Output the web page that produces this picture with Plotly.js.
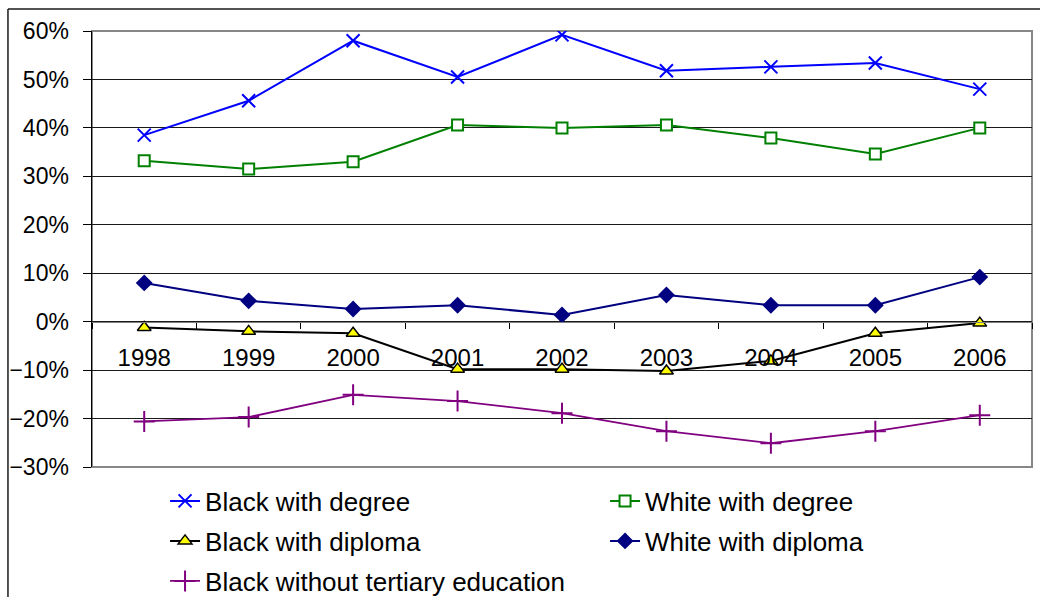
<!DOCTYPE html>
<html>
<head>
<meta charset="utf-8">
<script src="https://cdn.plot.ly/plotly-3.0.1.min.js"></script>
<style>html,body{margin:0;padding:0;background:#fff;}#chart{width:1040px;height:597px;}</style>
</head>
<body>
<div id="chart"></div>
<script>
var years = ['1998','1999','2000','2001','2002','2003','2004','2005','2006'];
var blackDegree   = [38.5, 45.6, 58.0, 50.5, 59.2, 51.8, 52.6, 53.4, 48.0];
var whiteDegree   = [33.2, 31.5, 33.0, 40.6, 40.0, 40.6, 37.9, 34.6, 40.0];
var blackDiploma  = [-1.2, -2.0, -2.4, -9.8, -9.8, -10.2, -8.1, -2.4, -0.3];
var whiteDiploma  = [8.0, 4.3, 2.6, 3.4, 1.4, 5.5, 3.4, 3.4, 9.2];
var blackNoTert   = [-20.6, -19.7, -15.1, -16.4, -18.9, -22.6, -25.1, -22.6, -19.3];
var seriesNames = ['Black with degree','White with degree','Black with diploma','White with diploma','Black without tertiary education'];
var yRange = [-30, 60];

var FONT = 'Liberation Sans, Arial, sans-serif';

var traces = [
  {x: years, y: blackDegree, name: seriesNames[0], type: 'scatter', mode: 'lines+markers', legend: 'legend',
   line: {color: '#0000FF', width: 2},
   marker: {symbol: 'x-thin-open', size: 13, color: '#0000FF', line: {color: '#0000FF', width: 2}}},
  {x: years, y: whiteDegree, name: seriesNames[1], type: 'scatter', mode: 'lines+markers', legend: 'legend',
   line: {color: '#008000', width: 2},
   marker: {symbol: 'square', size: 11, color: '#FFFFFF', line: {color: '#008000', width: 2}}},
  {x: years, y: blackDiploma, name: seriesNames[2], type: 'scatter', mode: 'lines+markers', legend: 'legend2',
   line: {color: '#000000', width: 2},
   marker: {symbol: 'triangle-up', size: 12, color: '#FFFF00', line: {color: '#000000', width: 1.5}}},
  {x: years, y: whiteDiploma, name: seriesNames[3], type: 'scatter', mode: 'lines+markers', legend: 'legend2',
   line: {color: '#000080', width: 2},
   marker: {symbol: 'diamond', size: 13, color: '#000080', line: {color: '#000080', width: 0}}},
  {x: years, y: blackNoTert, name: seriesNames[4], type: 'scatter', mode: 'lines+markers', legend: 'legend3',
   line: {color: '#800080', width: 1.8},
   marker: {symbol: 'cross-thin-open', size: 15, color: '#800080', line: {color: '#800080', width: 2}}}
];

var zeroPos = (0 - yRange[0]) / (yRange[1] - yRange[0]);

function legendRow(yc) {
  return {
    orientation: 'h', xref: 'container', yref: 'container',
    x: 0.1587, xanchor: 'left', y: yc, yanchor: 'middle',
    font: {family: FONT, size: 26, color: '#000'},
    entrywidth: 395, entrywidthmode: 'pixels', itemwidth: 30,
    traceorder: 'normal', bgcolor: 'rgba(0,0,0,0)', borderwidth: 0
  };
}

var layout = {
  width: 1040, height: 597,
  margin: {l: 92, r: 8, t: 31, b: 130},
  paper_bgcolor: '#FFFFFF', plot_bgcolor: '#FFFFFF',
  font: {family: FONT, color: '#000'},
  showlegend: true,
  hovermode: false,
  xaxis: {
    type: 'category', categoryorder: 'array', categoryarray: years,
    range: [-0.5, years.length - 0.5],
    anchor: 'free', position: zeroPos,
    showline: true, linecolor: '#808080', linewidth: 1.5,
    ticks: 'outside', tickson: 'boundaries', ticklen: 6, tickcolor: '#000', tickwidth: 1,
    showgrid: false, zeroline: false,
    tickfont: {family: FONT, size: 24, color: '#000'},
    ticklabelstandoff: 14
  },
  yaxis: {
    range: yRange, dtick: 10, tick0: 0, ticksuffix: '%',
    showline: true, linecolor: '#000', linewidth: 1.5,
    ticks: 'outside', ticklen: 8, tickcolor: '#000',
    showgrid: true, gridcolor: '#1a1a1a', gridwidth: 1,
    zeroline: false,
    tickfont: {family: FONT, size: 23, color: '#000'},
    ticklabelstandoff: 9
  },
  legend: legendRow(1 - 501 / 597),
  legend2: legendRow(1 - 541 / 597),
  legend3: legendRow(1 - 581 / 597),
  shapes: [
    {type: 'rect', xref: 'paper', yref: 'paper', x0: 0, x1: 1, y0: 0, y1: 1,
     line: {color: '#878787', width: 2}, layer: 'between'},
    {type: 'line', xref: 'paper', yref: 'paper', x0: -0.0894, x1: -0.0894, y0: -0.4, y1: 1.0505,
     line: {color: '#1a1a1a', width: 1.5}, layer: 'above'},
    {type: 'line', xref: 'paper', yref: 'paper', x0: -0.0894, x1: 1.05, y0: 1.0505, y1: 1.0505,
     line: {color: '#1a1a1a', width: 1.5}, layer: 'above'}
  ]
};

Plotly.newPlot('chart', traces, layout, {displayModeBar: false, staticPlot: true});
</script>
</body>
</html>
